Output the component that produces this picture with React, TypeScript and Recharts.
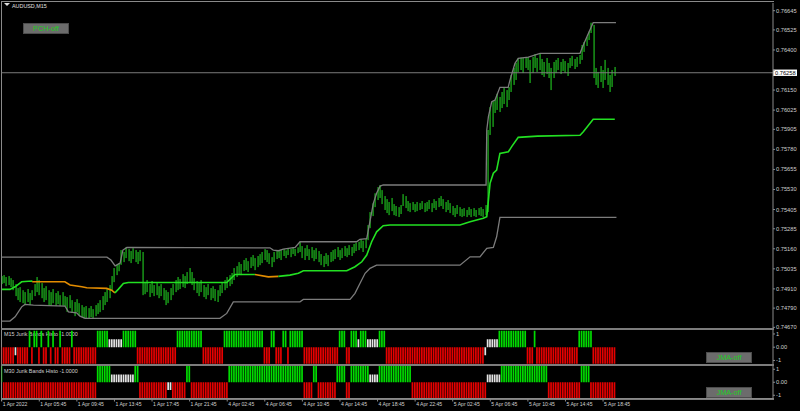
import React from 'react';
import { ComposedChart, Bar, Line, XAxis, YAxis, ReferenceLine, Cell } from 'recharts';

// AUDUSD M15, one entry per bar (bar 0 = 1 Apr 01:45)
const HIGH = [
  0.7499, 0.74996, 0.74984, 0.7499, 0.74977, 0.74965, 0.7494, 0.74915, 0.74921, 0.74902,
  0.7489, 0.74909, 0.74884, 0.74902, 0.7494, 0.74984, 0.74965, 0.74946, 0.74915, 0.74927,
  0.74902, 0.7489, 0.74909, 0.74884, 0.74896, 0.74871, 0.7489, 0.74865, 0.74859, 0.74871,
  0.7484, 0.74828, 0.74846, 0.74821, 0.74809, 0.74796, 0.74803, 0.7479, 0.74803, 0.74784,
  0.74809, 0.74821, 0.7484, 0.74865, 0.7489, 0.74915, 0.74934, 0.7499, 0.7504, 0.7506,
  0.75071, 0.75152, 0.7514, 0.75169, 0.75158, 0.75146, 0.75164, 0.75152, 0.7514, 0.75152,
  0.7514, 0.74952, 0.74965, 0.7494, 0.74959, 0.74934, 0.74946, 0.74927, 0.7494, 0.74915,
  0.74902, 0.7489, 0.74915, 0.7494, 0.74965, 0.74984, 0.74971, 0.75002, 0.7499, 0.75015,
  0.7504, 0.75015, 0.74977, 0.74959, 0.74946, 0.74965, 0.74934, 0.74921, 0.7494, 0.74915,
  0.74927, 0.74909, 0.74902, 0.74934, 0.74952, 0.74965, 0.74984, 0.74996, 0.75009, 0.7504,
  0.75052, 0.75077, 0.75065, 0.7509, 0.75102, 0.75083, 0.75108, 0.75121, 0.75102, 0.75115,
  0.75127, 0.7514, 0.75158, 0.75152, 0.75133, 0.75108, 0.7514, 0.75146, 0.75148, 0.75152,
  0.75158, 0.7515, 0.75165, 0.7516, 0.75169, 0.7516, 0.75169, 0.75204, 0.75177, 0.75164,
  0.75183, 0.75158, 0.75171, 0.75152, 0.75164, 0.75146, 0.75127, 0.75115, 0.75133, 0.75121,
  0.7514, 0.75152, 0.75158, 0.75171, 0.75152, 0.75164, 0.75177, 0.75164, 0.75183, 0.75171,
  0.7519, 0.75198, 0.75204, 0.75219, 0.7521, 0.75223, 0.75308, 0.75389, 0.75443, 0.75506,
  0.75545, 0.75558, 0.75526, 0.75489, 0.7547, 0.75452, 0.75477, 0.75439, 0.75427, 0.7542,
  0.75433, 0.75501, 0.75489, 0.75458, 0.75445, 0.75452, 0.75439, 0.75452, 0.75445, 0.75458,
  0.75445, 0.75452, 0.75464, 0.75445, 0.7547, 0.75458, 0.75477, 0.75489, 0.7547, 0.75452,
  0.75464, 0.75445, 0.75427, 0.75414, 0.75433, 0.7542, 0.75408, 0.75414, 0.75402, 0.7542,
  0.75408, 0.75414, 0.75402, 0.75414, 0.7542, 0.75408, 0.75433, 0.75901, 0.76044, 0.7608,
  0.76088, 0.76127, 0.76107, 0.76138, 0.76163, 0.7615, 0.76169, 0.76244, 0.76288, 0.76319,
  0.76348, 0.76352, 0.7635, 0.76356, 0.76356, 0.76338, 0.76356, 0.76375, 0.7635, 0.76379,
  0.76344, 0.76325, 0.7635, 0.76319, 0.76288, 0.76325, 0.76338, 0.7635, 0.76325, 0.76344,
  0.76331, 0.76319, 0.7635, 0.76363, 0.76344, 0.76356, 0.76369, 0.76431, 0.7645, 0.7648,
  0.76515, 0.7657, 0.76556, 0.76288, 0.76263, 0.763, 0.76275, 0.76338, 0.76288, 0.76244,
  0.76275, 0.76294,
];

const LOW = [
  0.7494, 0.74946, 0.74927, 0.74934, 0.74921, 0.74902, 0.74865, 0.7484, 0.74828, 0.74821,
  0.74809, 0.74828, 0.74809, 0.7484, 0.74865, 0.7489, 0.74871, 0.74852, 0.74828, 0.7484,
  0.74809, 0.74805, 0.74821, 0.74805, 0.74815, 0.74803, 0.74805, 0.74803, 0.74767, 0.7479,
  0.74761, 0.7474, 0.74765, 0.74745, 0.74734, 0.74726, 0.74728, 0.74726, 0.74734, 0.74728,
  0.7474, 0.74753, 0.74765, 0.74778, 0.74809, 0.74828, 0.74852, 0.74902, 0.74952, 0.74996,
  0.7502, 0.7506, 0.75077, 0.75102, 0.75083, 0.75071, 0.75096, 0.75077, 0.75065, 0.75083,
  0.74871, 0.74877, 0.7489, 0.74859, 0.74884, 0.74865, 0.74871, 0.74852, 0.74865, 0.7484,
  0.74809, 0.74821, 0.7484, 0.74871, 0.7489, 0.74902, 0.74909, 0.74921, 0.74915, 0.7494,
  0.74952, 0.74934, 0.74902, 0.74884, 0.74865, 0.7489, 0.74859, 0.74846, 0.74871, 0.7484,
  0.74852, 0.74834, 0.74828, 0.74865, 0.74884, 0.74902, 0.74915, 0.74927, 0.7494, 0.74965,
  0.74984, 0.75002, 0.74996, 0.75021, 0.75027, 0.75015, 0.7504, 0.75052, 0.75027, 0.75046,
  0.75058, 0.75071, 0.7509, 0.75077, 0.75065, 0.75046, 0.75077, 0.75096, 0.75102, 0.7509,
  0.75115, 0.75102, 0.75121, 0.75108, 0.75127, 0.75115, 0.75133, 0.7514, 0.75102, 0.7509,
  0.75115, 0.7509, 0.75102, 0.75083, 0.75096, 0.75077, 0.75058, 0.75046, 0.75065, 0.75052,
  0.75077, 0.75083, 0.75096, 0.75108, 0.7509, 0.75102, 0.75115, 0.75108, 0.75121, 0.75115,
  0.75133, 0.75146, 0.75152, 0.75164, 0.7514, 0.75164, 0.75214, 0.75289, 0.75364, 0.7542,
  0.75464, 0.75477, 0.75439, 0.75402, 0.75383, 0.7537, 0.75395, 0.7537, 0.75364, 0.75358,
  0.75377, 0.75427, 0.75414, 0.75395, 0.75389, 0.75402, 0.75389, 0.75395, 0.75402, 0.75408,
  0.75389, 0.75395, 0.75408, 0.75389, 0.75414, 0.75402, 0.7542, 0.75427, 0.75408, 0.75389,
  0.75402, 0.75383, 0.7537, 0.75358, 0.75377, 0.75364, 0.75358, 0.75364, 0.75358, 0.7537,
  0.75358, 0.75364, 0.75358, 0.7537, 0.75364, 0.75358, 0.7537, 0.75389, 0.7587, 0.7592,
  0.76007, 0.76026, 0.76013, 0.76038, 0.76063, 0.76044, 0.76088, 0.76138, 0.76182, 0.76213,
  0.76263, 0.76275, 0.76256, 0.76288, 0.76275, 0.76194, 0.76256, 0.76288, 0.76263, 0.76275,
  0.76244, 0.76232, 0.7625, 0.76225, 0.7615, 0.76225, 0.76256, 0.76275, 0.7625, 0.76269,
  0.76256, 0.76238, 0.76288, 0.763, 0.76281, 0.76294, 0.76313, 0.76338, 0.76388, 0.76425,
  0.76462, 0.76506, 0.76225, 0.76182, 0.76163, 0.762, 0.76163, 0.76213, 0.76182, 0.76138,
  0.76169, 0.76238,
];

const PRICE_TICKS = [
  0.76645, 0.76525, 0.764, 0.76275, 0.7615, 0.76025, 0.75905, 0.7578, 0.75655,
  0.7553, 0.75405, 0.75285, 0.7516, 0.75035, 0.7491, 0.7479, 0.7467,
];
const LAST_PRICE = 0.76258;

const TIME_TICKS = [0, 16, 32, 48, 64, 80, 96, 112, 128, 144, 160, 176, 192, 208, 224, 240, 256];
const TIME_LABELS = [
  '1 Apr 2022', '1 Apr 05:45', '1 Apr 09:45', '1 Apr 13:45', '1 Apr 17:45', '1 Apr 21:45',
  '4 Apr 02:45', '4 Apr 06:45', '4 Apr 10:45', '4 Apr 14:45', '4 Apr 18:45', '4 Apr 22:45',
  '5 Apr 02:45', '5 Apr 06:45', '5 Apr 10:45', '5 Apr 14:45', '5 Apr 18:45',
];

// price channel breakpoints: [bar index, price]
const PCH_UPPER = [
  [0, 0.75108], [44.8, 0.75108], [46.5, 0.7509], [48.3, 0.75054], [50.4, 0.75071], [51.6, 0.75152],
  [53.3, 0.75169], [114.2, 0.75166], [115.6, 0.75152], [117.8, 0.75148], [119.9, 0.75158],
  [124.9, 0.75169], [127, 0.75204], [151.1, 0.75204], [152.5, 0.75219], [155.4, 0.75223],
  [158.2, 0.75443], [159.6, 0.75506], [161.1, 0.75551], [162.4, 0.75558], [206.2, 0.75558],
  [206.5, 0.75901], [207.2, 0.75984], [208.6, 0.76077], [210, 0.76088], [212.1, 0.76167],
  [215.6, 0.76167], [216.4, 0.76213], [218.5, 0.76317], [219.9, 0.76348], [224.2, 0.76356],
  [229.2, 0.76379], [246.2, 0.76379], [247.6, 0.76431], [250.4, 0.76525], [251.8, 0.7657],
  [261.5, 0.7657],
];
const PCH_LOWER = [
  [0, 0.74709], [3.5, 0.74709], [5.7, 0.74736], [8.5, 0.74798], [9.9, 0.74813], [13.5, 0.74809],
  [26.9, 0.74803], [28.4, 0.74767], [31.9, 0.74761], [33.3, 0.7474], [35.5, 0.74726],
  [92.9, 0.74726], [95.8, 0.74757], [98.6, 0.74829], [127, 0.74829], [128.4, 0.74844],
  [148.3, 0.74844], [150.4, 0.74882], [152.5, 0.74944], [154.7, 0.75007], [156.8, 0.75038],
  [159.6, 0.75058], [195.1, 0.75058], [199.4, 0.7511], [203.6, 0.7511], [206.5, 0.75163],
  [209.3, 0.75169], [210.7, 0.75235], [212.1, 0.75356], [261.7, 0.75356],
];
// middle line, split where it changes colour
const MID_GREEN_A = [[0, 0.74907], [3.5, 0.74907], [5.7, 0.74923], [8.5, 0.74954], [12.8, 0.74959], [13, 0.74954]];
const MID_ORANGE_A = [
  [13, 0.74954], [26.9, 0.74954], [29.1, 0.74934], [34.1, 0.74923], [36.2, 0.74917],
  [44.7, 0.74913], [46.8, 0.74902], [48.2, 0.74885],
];
const MID_GREEN_B = [
  [48.2, 0.74885], [49.6, 0.74907], [51.8, 0.74944], [53.9, 0.7495], [95.8, 0.7495],
  [99.3, 0.75], [107.8, 0.75],
];
const MID_ORANGE_B = [[107.8, 0.75], [113.5, 0.74985], [117.8, 0.74988]];
const MID_GREEN_C = [
  [117.8, 0.74988], [122.7, 0.74996], [126.3, 0.75007], [128.4, 0.75023], [146.9, 0.75023],
  [150.4, 0.75048], [153.3, 0.75079], [155.4, 0.75121], [157.5, 0.75204], [159.6, 0.75266],
  [162.4, 0.75304], [165.3, 0.75308], [195.1, 0.75308], [199.4, 0.75329], [205, 0.7535],
  [206.5, 0.7536], [207.2, 0.75464], [207.9, 0.75568], [209.3, 0.75631], [210.7, 0.75651],
  [212.1, 0.75755], [215.7, 0.75765], [217.1, 0.75797], [219.9, 0.75855], [228.1, 0.75863],
  [246.2, 0.75868], [247.6, 0.7589], [251.8, 0.75968], [261, 0.75968],
];

// Jurik bands histo: [state, number of bars]; g up, r down, w weak up, v weak down
const M15_RUNS = [
  ['r', 6], ['v', 1], ['r', 5], ['g', 1], ['r', 1], ['g', 2], ['r', 1], ['g', 1], ['r', 2], ['g', 1],
  ['r', 1], ['g', 1], ['r', 2], ['g', 1], ['r', 4], ['g', 1], ['r', 10], ['g', 5], ['w', 6], ['g', 6],
  ['r', 17], ['g', 11], ['r', 9], ['g', 17], ['r', 3], ['g', 2], ['r', 3], ['g', 2], ['r', 1], ['g', 6],
  ['r', 15], ['g', 3], ['r', 2], ['g', 3], ['w', 1], ['g', 3], ['w', 5], ['g', 3], ['r', 42], ['v', 1],
  ['w', 5], ['g', 12], ['r', 3], ['g', 1], ['r', 18], ['g', 6], ['r', 10],
];
const M30_RUNS = [
  ['g', 1], ['r', 40], ['g', 6], ['w', 10], ['g', 2], ['r', 12], ['v', 2], ['r', 6], ['g', 2], ['r', 16],
  ['g', 32], ['r', 4], ['g', 2], ['r', 8], ['g', 4], ['r', 2], ['g', 8], ['w', 4], ['g', 14], ['r', 32],
  ['w', 6], ['g', 20], ['r', 14], ['g', 4], ['r', 11],
];
const HISTO_VALUE: Record<string, number> = { g: 1.25, r: -1.25, w: 0.6, v: -0.6 };
const HISTO_COLOR: Record<string, string> = { g: '#00dc00', r: '#e60000', w: '#e4e4e4', v: '#e4e4e4' };

const X_MAX = 328.35;
const FONT = '"Liberation Sans", Arial, sans-serif';
const AXIS_GRAY = '#8a8a8a';
const TEXT_GRAY = '#d0d0d0';
const BAND_GRAY = '#7c7c7c';

const bars = HIGH.map((h, i) => ({ i, range: [LOW[i], h] }));
const toPts = (arr: number[][]) => arr.map(([i, v]) => ({ i, v }));
const expand = (runs: (string | number)[][]) => {
  const out: { i: number; s: string; v: number }[] = [];
  runs.forEach(([s, n]) => {
    for (let k = 0; k < (n as number); k++) out.push({ i: out.length, s: s as string, v: HISTO_VALUE[s as string] });
  });
  return out;
};
const m15 = expand(M15_RUNS);
const m30 = expand(M30_RUNS);

// high-low bar as a crisp thin line centred on the bar slot
function PriceBar(props: any) {
  const { x, y, width, height } = props;
  if (height == null || isNaN(y)) return <g />;
  const cx = Math.round(x + width / 2);
  return <rect x={cx - 0.5} y={y} width={1.15} height={Math.max(height, 1)} fill="#1fc21f" />;
}

function PriceTick(props: any) {
  const { x, y, payload } = props;
  // the tick label under the last-price box is hidden by it, as in the terminal
  if (Math.abs(payload.value - LAST_PRICE) < 0.0003) return <g />;
  return (
    <text x={x} y={y} dy={2} fontSize={5.7} fill={TEXT_GRAY} fontFamily={FONT} textAnchor="start">
      {payload.value.toFixed(5)}
    </text>
  );
}

function HistoTick(props: any) {
  const { x, y, payload } = props;
  const label = payload.value === 0 ? '0.00' : String(payload.value);
  return (
    <text x={x} y={y} dy={2} fontSize={5.7} fill={TEXT_GRAY} fontFamily={FONT} textAnchor="start">
      {label}
    </text>
  );
}

function TimeTick(props: any) {
  const { x, y, payload } = props;
  const label = TIME_LABELS[TIME_TICKS.indexOf(payload.value)];
  return (
    <text x={x + 1} y={y} dy={2.5} fontSize={5.1} fill={TEXT_GRAY} fontFamily={FONT} textAnchor="start">
      {label}
    </text>
  );
}

function LastPriceLabel(props: any) {
  const { viewBox } = props;
  const x = viewBox.x + viewBox.width;
  const y = viewBox.y;
  return (
    <g>
      <rect x={x} y={y - 3.2} width={24} height={6.4} fill="#ffffff" />
      <text x={x + 2} y={y + 2} fontSize={5.7} fill="#000" fontFamily={FONT}>
        {LAST_PRICE.toFixed(5)}
      </text>
    </g>
  );
}

const lineProps = { dataKey: 'v', dot: false, activeDot: false, isAnimationActive: false, type: 'linear' as const };

function Button({ top, left, label }: { top: number; left: number; label: string }) {
  return (
    <div
      style={{
        position: 'absolute', top, left, width: 46, height: 11, boxSizing: 'border-box',
        background: '#6c6c6c', border: '1px solid #4c4c4c', color: '#22cc22',
        fontFamily: FONT, fontSize: 7.3, lineHeight: '9px', textAlign: 'center',
      }}
    >
      {label}
    </div>
  );
}

export default function App() {
  return (
    <div style={{ position: 'absolute', left: 0, top: 0, width: 800, height: 411, background: '#000', overflow: 'hidden' }}>
      {/* frame + window separators */}
      <div style={{ position: 'absolute', left: 1, top: 1, width: 772, height: 399, borderLeft: `1px solid ${AXIS_GRAY}`, borderTop: `1px solid ${AXIS_GRAY}` }} />
      <div style={{ position: 'absolute', left: 1, top: 328, width: 773, height: 2, background: '#7c7c7c' }} />
      <div style={{ position: 'absolute', left: 1, top: 364, width: 773, height: 2, background: '#7c7c7c' }} />
      <div style={{ position: 'absolute', left: 1, top: 398, width: 773, height: 2, background: '#7c7c7c' }} />

      {/* main window */}
      <div style={{ position: 'absolute', left: 0, top: 0 }}>
        <ComposedChart width={800} height={330} data={bars} margin={{ top: 3, right: 0, bottom: 2, left: 1.7 }}>
          <XAxis dataKey="i" type="number" domain={[0, X_MAX]} hide allowDataOverflow />
          <YAxis
            orientation="right" width={27} type="number" domain={[0.74666, 0.76693]} allowDataOverflow
            ticks={PRICE_TICKS} interval={0} tickSize={2} tickMargin={1}
            axisLine={{ stroke: AXIS_GRAY }} tickLine={{ stroke: AXIS_GRAY }} tick={<PriceTick />}
          />
          <ReferenceLine y={LAST_PRICE} stroke="#7a7a7a" strokeWidth={1} label={<LastPriceLabel />} />
          <Bar dataKey="range" barSize={2} fill="#1fc21f" shape={<PriceBar />} isAnimationActive={false} />
          <Line data={toPts(PCH_UPPER)} {...lineProps} stroke={BAND_GRAY} strokeWidth={1.3} />
          <Line data={toPts(PCH_LOWER)} {...lineProps} stroke={BAND_GRAY} strokeWidth={1.3} />
          <Line data={toPts(MID_GREEN_A)} {...lineProps} stroke="#22e022" strokeWidth={1.6} />
          <Line data={toPts(MID_ORANGE_A)} {...lineProps} stroke="#e38c00" strokeWidth={1.6} />
          <Line data={toPts(MID_GREEN_B)} {...lineProps} stroke="#22e022" strokeWidth={1.6} />
          <Line data={toPts(MID_ORANGE_B)} {...lineProps} stroke="#e38c00" strokeWidth={1.6} />
          <Line data={toPts(MID_GREEN_C)} {...lineProps} stroke="#22e022" strokeWidth={1.6} />
        </ComposedChart>
      </div>

      <div style={{ position: 'absolute', left: 4, top: 3, width: 0, height: 0, borderLeft: '3px solid transparent', borderRight: '3px solid transparent', borderTop: '3px solid #e0e0e0' }} />
      <div style={{ position: 'absolute', left: 12, top: 2.5, color: '#e0e0e0', fontFamily: FONT, fontSize: 5.4, lineHeight: '7px', whiteSpace: 'nowrap' }}>
        AUDUSD,M15
      </div>
      <Button top={23} left={23} label="PCH-off" />

      {/* M15 histo window */}
      <div style={{ position: 'absolute', left: 4, top: 331, color: TEXT_GRAY, fontFamily: FONT, fontSize: 5.4, lineHeight: '7px', whiteSpace: 'nowrap' }}>
        M15 Jurik Bands Histo -1.0000
      </div>
      <div style={{ position: 'absolute', left: 0, top: 330 }}>
        <ComposedChart width={800} height={34} data={m15} margin={{ top: 0, right: 0, bottom: 0, left: 1.7 }}>
          <XAxis dataKey="i" type="number" domain={[0, X_MAX]} hide allowDataOverflow />
          <YAxis
            orientation="right" width={27} type="number" domain={[-1.27, 1.3]} allowDataOverflow
            ticks={[1, 0, -1]} interval={0} tickSize={2} tickMargin={1}
            axisLine={{ stroke: AXIS_GRAY }} tickLine={{ stroke: AXIS_GRAY }} tick={<HistoTick />}
          />
          <Bar dataKey="v" barSize={1.7} isAnimationActive={false}>
            {m15.map((d) => (
              <Cell key={d.i} fill={HISTO_COLOR[d.s]} />
            ))}
          </Bar>
        </ComposedChart>
      </div>
      <Button top={352} left={706} label="JMA-off" />

      {/* M30 histo window + time axis */}
      <div style={{ position: 'absolute', left: 4, top: 368, color: TEXT_GRAY, fontFamily: FONT, fontSize: 5.4, lineHeight: '7px', whiteSpace: 'nowrap' }}>
        M30 Jurik Bands Histo -1.0000
      </div>
      <div style={{ position: 'absolute', left: 0, top: 366 }}>
        <ComposedChart width={800} height={45} data={m30} margin={{ top: 0, right: 0, bottom: 0, left: 1.7 }}>
          <XAxis
            dataKey="i" type="number" domain={[0, X_MAX]} allowDataOverflow height={12.5}
            ticks={TIME_TICKS} interval={0} tickSize={3} tickMargin={2}
            axisLine={{ stroke: AXIS_GRAY }} tickLine={{ stroke: AXIS_GRAY }} tick={<TimeTick />}
          />
          <YAxis
            orientation="right" width={27} type="number" domain={[-1.25, 1.25]} allowDataOverflow
            ticks={[1, 0, -1]} interval={0} tickSize={2} tickMargin={1}
            axisLine={{ stroke: AXIS_GRAY }} tickLine={{ stroke: AXIS_GRAY }} tick={<HistoTick />}
          />
          <Bar dataKey="v" barSize={1.7} isAnimationActive={false}>
            {m30.map((d) => (
              <Cell key={d.i} fill={HISTO_COLOR[d.s]} />
            ))}
          </Bar>
        </ComposedChart>
      </div>
      <Button top={387} left={706} label="JMA-off" />
    </div>
  );
}
